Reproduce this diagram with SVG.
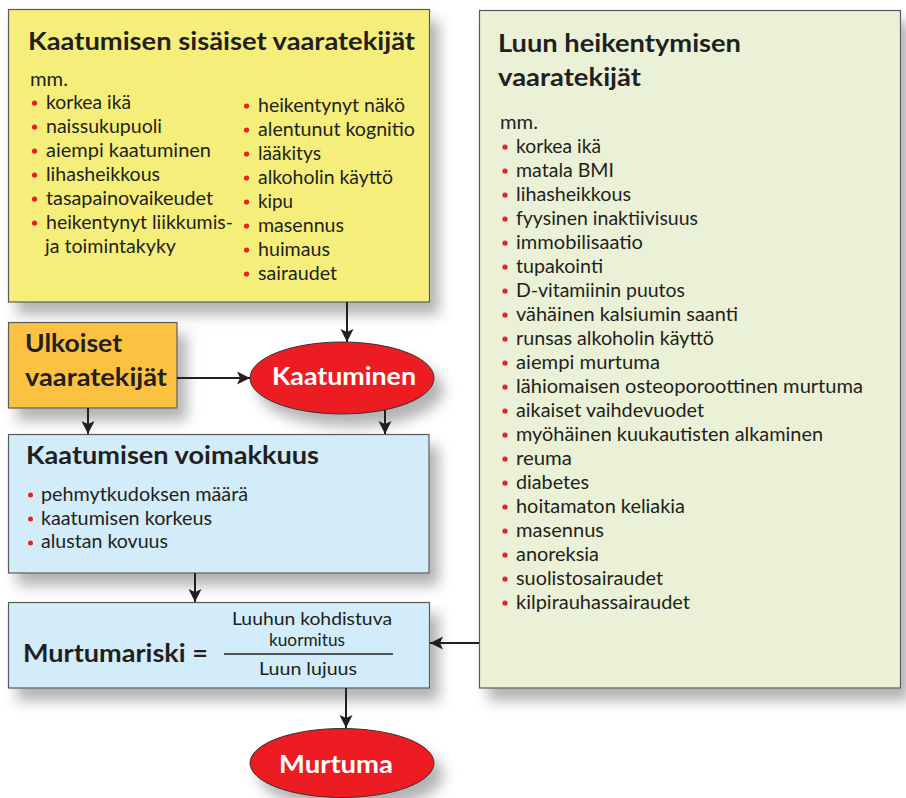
<svg xmlns="http://www.w3.org/2000/svg" width="906" height="798" viewBox="0 0 906 798">
<style>
text{font-family:Lato,"Open Sans","Liberation Sans",sans-serif;fill:#231F20}
.h{font-weight:bold;font-size:25px}
.b{font-size:19.5px}
.s{font-size:19px}
.f{font-size:18px}
.w{fill:#fff;font-weight:bold;font-size:25px}
.box{stroke:#5a5a5a;stroke-width:1.2}
.dot{fill:#ED1C24}
.c{stroke:#231F20;stroke-width:2;fill:none}
</style>
<defs>
<filter id="sh" x="-10%" y="-10%" width="130%" height="140%">
<feGaussianBlur in="SourceAlpha" stdDeviation="7"/>
<feOffset dx="9" dy="12" result="b"/>
<feFlood flood-color="#000" flood-opacity="0.3"/>
<feComposite in2="b" operator="in"/>
<feMerge><feMergeNode/><feMergeNode in="SourceGraphic"/></feMerge>
</filter>
<marker id="ar" markerUnits="userSpaceOnUse" markerWidth="14" markerHeight="14" refX="13" refY="6.5" orient="auto">
<path d="M0,0 L13,6.5 L0,13 L3,6.5 z" fill="#231F20"/>
</marker>
</defs>

<g id="green">
<rect class="box" x="479.5" y="10.5" width="421" height="677.5" fill="#EBF1D6" filter="url(#sh)"/>
<text class="h" x="498" y="52" textLength="243" lengthAdjust="spacingAndGlyphs">Luun heikentymisen</text>
<text class="h" x="498" y="86" textLength="143" lengthAdjust="spacingAndGlyphs">vaaratekijät</text>
<text class="b" x="500" y="129" textLength="38" lengthAdjust="spacingAndGlyphs">mm.</text>
<g class="dot">
<circle cx="505" cy="147" r="2.6"/><circle cx="505" cy="171" r="2.6"/><circle cx="505" cy="195" r="2.6"/><circle cx="505" cy="219" r="2.6"/><circle cx="505" cy="243" r="2.6"/><circle cx="505" cy="267" r="2.6"/><circle cx="505" cy="291" r="2.6"/><circle cx="505" cy="315" r="2.6"/><circle cx="505" cy="339" r="2.6"/><circle cx="505" cy="363" r="2.6"/><circle cx="505" cy="387" r="2.6"/><circle cx="505" cy="411" r="2.6"/><circle cx="505" cy="435" r="2.6"/><circle cx="505" cy="459" r="2.6"/><circle cx="505" cy="483" r="2.6"/><circle cx="505" cy="507" r="2.6"/><circle cx="505" cy="531" r="2.6"/><circle cx="505" cy="555" r="2.6"/><circle cx="505" cy="579" r="2.6"/><circle cx="505" cy="603" r="2.6"/>
</g>
<text class="b" x="516" y="153" textLength="85" lengthAdjust="spacingAndGlyphs">korkea ikä</text>
<text class="b" x="516" y="177" textLength="98" lengthAdjust="spacingAndGlyphs">matala BMI</text>
<text class="b" x="516" y="201" textLength="115" lengthAdjust="spacingAndGlyphs">lihasheikkous</text>
<text class="b" x="516" y="225" textLength="182" lengthAdjust="spacingAndGlyphs">fyysinen inaktiivisuus</text>
<text class="b" x="516" y="249" textLength="127" lengthAdjust="spacingAndGlyphs">immobilisaatio</text>
<text class="b" x="516" y="273" textLength="87" lengthAdjust="spacingAndGlyphs">tupakointi</text>
<text class="b" x="516" y="297" textLength="169" lengthAdjust="spacingAndGlyphs">D-vitamiinin puutos</text>
<text class="b" x="516" y="321" textLength="222" lengthAdjust="spacingAndGlyphs">vähäinen kalsiumin saanti</text>
<text class="b" x="516" y="345" textLength="198" lengthAdjust="spacingAndGlyphs">runsas alkoholin käyttö</text>
<text class="b" x="516" y="369" textLength="144" lengthAdjust="spacingAndGlyphs">aiempi murtuma</text>
<text class="b" x="516" y="393" textLength="347" lengthAdjust="spacingAndGlyphs">lähiomaisen osteoporoottinen murtuma</text>
<text class="b" x="516" y="417" textLength="188" lengthAdjust="spacingAndGlyphs">aikaiset vaihdevuodet</text>
<text class="b" x="516" y="441" textLength="307" lengthAdjust="spacingAndGlyphs">myöhäinen kuukautisten alkaminen</text>
<text class="b" x="516" y="465" textLength="56" lengthAdjust="spacingAndGlyphs">reuma</text>
<text class="b" x="516" y="489" textLength="73" lengthAdjust="spacingAndGlyphs">diabetes</text>
<text class="b" x="516" y="513" textLength="169" lengthAdjust="spacingAndGlyphs">hoitamaton keliakia</text>
<text class="b" x="516" y="537" textLength="88" lengthAdjust="spacingAndGlyphs">masennus</text>
<text class="b" x="516" y="561" textLength="83" lengthAdjust="spacingAndGlyphs">anoreksia</text>
<text class="b" x="516" y="585" textLength="147" lengthAdjust="spacingAndGlyphs">suolistosairaudet</text>
<text class="b" x="516" y="609" textLength="174" lengthAdjust="spacingAndGlyphs">kilpirauhassairaudet</text>
</g>

<g id="yellow">
<rect class="box" x="8.5" y="9.5" width="421" height="292.5" fill="#F5EE7A" stroke="#333" filter="url(#sh)"/>
<text class="h" x="28" y="50" textLength="387" lengthAdjust="spacingAndGlyphs">Kaatumisen sisäiset vaaratekijät</text>
<text class="b" x="30" y="86" textLength="38" lengthAdjust="spacingAndGlyphs">mm.</text>
<g class="dot">
<circle cx="34.5" cy="103" r="2.6"/><circle cx="34.5" cy="127" r="2.6"/><circle cx="34.5" cy="151" r="2.6"/><circle cx="34.5" cy="175" r="2.6"/><circle cx="34.5" cy="199" r="2.6"/><circle cx="34.5" cy="223" r="2.6"/>
<circle cx="246.5" cy="106" r="2.6"/><circle cx="246.5" cy="130" r="2.6"/><circle cx="246.5" cy="154" r="2.6"/><circle cx="246.5" cy="178" r="2.6"/><circle cx="246.5" cy="202" r="2.6"/><circle cx="246.5" cy="226" r="2.6"/><circle cx="246.5" cy="250" r="2.6"/><circle cx="246.5" cy="274" r="2.6"/>
</g>
<text class="b" x="46" y="109" textLength="85" lengthAdjust="spacingAndGlyphs">korkea ikä</text>
<text class="b" x="46" y="133" textLength="116" lengthAdjust="spacingAndGlyphs">naissukupuoli</text>
<text class="b" x="46" y="157" textLength="165" lengthAdjust="spacingAndGlyphs">aiempi kaatuminen</text>
<text class="b" x="46" y="181" textLength="114" lengthAdjust="spacingAndGlyphs">lihasheikkous</text>
<text class="b" x="46" y="205" textLength="167" lengthAdjust="spacingAndGlyphs">tasapainovaikeudet</text>
<text class="b" x="46" y="229" textLength="187" lengthAdjust="spacingAndGlyphs">heikentynyt liikkumis-</text>
<text class="b" x="45" y="253" textLength="131" lengthAdjust="spacingAndGlyphs">ja toimintakyky</text>
<text class="b" x="258" y="112" textLength="147" lengthAdjust="spacingAndGlyphs">heikentynyt näkö</text>
<text class="b" x="258" y="136" textLength="157" lengthAdjust="spacingAndGlyphs">alentunut kognitio</text>
<text class="b" x="258" y="160" textLength="63" lengthAdjust="spacingAndGlyphs">lääkitys</text>
<text class="b" x="258" y="184" textLength="135" lengthAdjust="spacingAndGlyphs">alkoholin käyttö</text>
<text class="b" x="258" y="208" textLength="35" lengthAdjust="spacingAndGlyphs">kipu</text>
<text class="b" x="258" y="232" textLength="86" lengthAdjust="spacingAndGlyphs">masennus</text>
<text class="b" x="258" y="256" textLength="72" lengthAdjust="spacingAndGlyphs">huimaus</text>
<text class="b" x="258" y="280" textLength="79" lengthAdjust="spacingAndGlyphs">sairaudet</text>
</g>

<g id="ulkoiset">
<rect class="box" x="8.5" y="322.5" width="168.5" height="85.5" fill="#FBC13F" filter="url(#sh)"/>
<text class="h" x="25" y="352" textLength="97" lengthAdjust="spacingAndGlyphs">Ulkoiset</text>
<text class="h" x="25" y="386" textLength="142" lengthAdjust="spacingAndGlyphs">vaaratekijät</text>
</g>

<g id="kaatuminen">
<ellipse cx="342" cy="378" rx="92" ry="36" fill="#ED1C24" stroke="#333" stroke-width="1" filter="url(#sh)"/>
<text class="w" x="272" y="385" textLength="144" lengthAdjust="spacingAndGlyphs">Kaatuminen</text>
</g>

<g id="voimakkuus">
<rect class="box" x="8.5" y="434.5" width="420.5" height="138.5" fill="#D2ECF9" filter="url(#sh)"/>
<text class="h" x="26" y="464" textLength="293" lengthAdjust="spacingAndGlyphs">Kaatumisen voimakkuus</text>
<g class="dot"><circle cx="30.5" cy="495" r="2.5"/><circle cx="30.5" cy="519" r="2.5"/><circle cx="30.5" cy="543" r="2.5"/></g>
<text class="s" x="41" y="501" textLength="207" lengthAdjust="spacingAndGlyphs">pehmytkudoksen määrä</text>
<text class="s" x="41" y="525" textLength="171" lengthAdjust="spacingAndGlyphs">kaatumisen korkeus</text>
<text class="s" x="41" y="548" textLength="127" lengthAdjust="spacingAndGlyphs">alustan kovuus</text>
</g>

<g id="murtumariski">
<rect class="box" x="8.5" y="602.5" width="421" height="85.5" fill="#D2ECF9" filter="url(#sh)"/>
<text class="h" x="23" y="662" textLength="185" lengthAdjust="spacingAndGlyphs">Murtumariski =</text>
<text class="f" x="232" y="625" textLength="160" lengthAdjust="spacingAndGlyphs">Luuhun kohdistuva</text>
<text class="f" x="269" y="646" textLength="76" lengthAdjust="spacingAndGlyphs">kuormitus</text>
<line x1="224" y1="654" x2="393" y2="654" stroke="#231F20" stroke-width="1.5"/>
<text class="f" x="259" y="675" textLength="98" lengthAdjust="spacingAndGlyphs">Luun lujuus</text>
</g>

<g id="murtuma">
<ellipse cx="342" cy="763" rx="92" ry="34.5" fill="#ED1C24" stroke="#333" stroke-width="1" filter="url(#sh)"/>
<text class="w" x="279" y="773" textLength="114" lengthAdjust="spacingAndGlyphs">Murtuma</text>
</g>

<g id="connectors">
<line class="c" x1="347" y1="302" x2="347" y2="342" marker-end="url(#ar)"/>
<line class="c" x1="177" y1="378" x2="250" y2="378" marker-end="url(#ar)"/>
<line class="c" x1="88" y1="408" x2="88" y2="434" marker-end="url(#ar)"/>
<line class="c" x1="385" y1="410" x2="385" y2="434" marker-end="url(#ar)"/>
<line class="c" x1="195" y1="573" x2="195" y2="602" marker-end="url(#ar)"/>
<line class="c" x1="479" y1="643" x2="430" y2="643" marker-end="url(#ar)"/>
<line class="c" x1="346" y1="688" x2="346" y2="728" marker-end="url(#ar)"/>
</g>
</svg>
